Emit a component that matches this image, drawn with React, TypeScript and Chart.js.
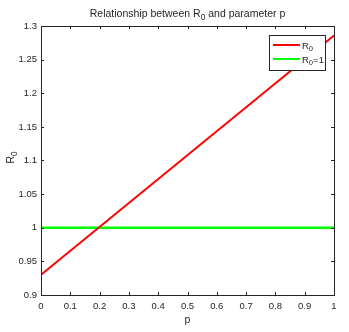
import React, { useEffect, useRef } from "react";
import { Chart, registerables } from "chart.js";

Chart.register(...registerables);

const pValues = [0, 1];
const r0Values = [0.93, 1.286];
const thresholdValues = [1, 1];
const xTicks = [0, 0.1, 0.2, 0.3, 0.4, 0.5, 0.6, 0.7, 0.8, 0.9, 1];
const yTicks = [0.9, 0.95, 1, 1.05, 1.1, 1.15, 1.2, 1.25, 1.3];
const seriesLabels = ["R_0", "R_0=1"];
const seriesColors = ["#ff0000", "#00ff00"];
const titleText = "Relationship between R_0 and parameter p";
const xTitle = "p";
const yTitle = "R_0";

const FONT = "'Liberation Sans', Arial, sans-serif";
const INK = "#262626";

function subParts(t: string) {
  const parts: { s: string; sub: boolean }[] = [];
  let i = 0;
  let buf = "";
  while (i < t.length) {
    if (t[i] === "_" && i + 1 < t.length) {
      if (buf) parts.push({ s: buf, sub: false });
      buf = "";
      parts.push({ s: t[i + 1], sub: true });
      i += 2;
    } else {
      buf += t[i];
      i++;
    }
  }
  if (buf) parts.push({ s: buf, sub: false });
  return parts;
}
function measureSub(ctx: CanvasRenderingContext2D, t: string, size: number) {
  let w = 0;
  for (const p of subParts(t)) {
    ctx.font = `${p.sub ? size * 0.8 : size}px ${FONT}`;
    w += ctx.measureText(p.s).width;
  }
  return w;
}
function drawSub(ctx: CanvasRenderingContext2D, t: string, x: number, y: number, size: number) {
  let cx = x;
  ctx.textBaseline = "alphabetic";
  ctx.textAlign = "left";
  for (const p of subParts(t)) {
    ctx.font = `${p.sub ? size * 0.8 : size}px ${FONT}`;
    ctx.fillText(p.s, cx, p.sub ? y + size * 0.3 : y);
    cx += ctx.measureText(p.s).width;
  }
}

const decor = {
  id: "decor",
  afterDatasetsDraw(chart: any) {
    const ctx: CanvasRenderingContext2D = chart.ctx;
    const a = chart.chartArea;
    const xs = chart.scales.x;
    const ys = chart.scales.y;
    ctx.save();
    ctx.strokeStyle = INK;
    ctx.lineWidth = 1;
    ctx.strokeRect(Math.round(a.left) + 0.5, Math.round(a.top) + 0.5, Math.round(a.right - a.left), Math.round(a.bottom - a.top));
    const tl = 3;
    ctx.beginPath();
    for (const v of xTicks) {
      const px = Math.round(xs.getPixelForValue(v)) + 0.5;
      ctx.moveTo(px, a.bottom);
      ctx.lineTo(px, a.bottom - tl);
      ctx.moveTo(px, a.top);
      ctx.lineTo(px, a.top + tl);
    }
    for (const v of yTicks) {
      const py = Math.round(ys.getPixelForValue(v)) + 0.5;
      ctx.moveTo(a.left, py);
      ctx.lineTo(a.left + tl, py);
      ctx.moveTo(a.right, py);
      ctx.lineTo(a.right - tl, py);
    }
    ctx.stroke();

    ctx.fillStyle = INK;
    const ts = 10.5;
    const tw = measureSub(ctx, titleText, ts);
    drawSub(ctx, titleText, (a.left + a.right) / 2 - tw / 2, 17, ts);
    const xw = measureSub(ctx, xTitle, 10.5);
    drawSub(ctx, xTitle, (a.left + a.right) / 2 - xw / 2, 323, 10.5);
    ctx.save();
    const yw = measureSub(ctx, yTitle, 10.5);
    ctx.translate(14, (a.top + a.bottom) / 2 - 3);
    ctx.rotate(-Math.PI / 2);
    drawSub(ctx, yTitle, -yw / 2, 0, 10.5);
    ctx.restore();

    const lx = 269, ly = 35, lw = 56, lh = 35;
    ctx.fillStyle = "#ffffff";
    ctx.fillRect(lx, ly, lw, lh);
    ctx.strokeStyle = INK;
    ctx.lineWidth = 1;
    ctx.strokeRect(lx + 0.5, ly + 0.5, lw, lh);
    chart.data.datasets.forEach((ds: any, i: number) => {
      const yy = ly + 10 + i * 14;
      ctx.strokeStyle = ds.borderColor;
      ctx.lineWidth = 2;
      ctx.beginPath();
      ctx.moveTo(lx + 4, yy);
      ctx.lineTo(lx + 31, yy);
      ctx.stroke();
      ctx.fillStyle = INK;
      drawSub(ctx, ds.label, lx + 33, yy + 3.5, 9.5);
    });
    ctx.restore();
  },
};

export default function App() {
  const ref = useRef<HTMLCanvasElement>(null);
  useEffect(() => {
    document.body.style.margin = "0";
    const chart = new Chart(ref.current!, {
      type: "line",
      data: {
        datasets: [
          {
            label: seriesLabels[0],
            data: pValues.map((p, i) => ({ x: p, y: r0Values[i] })),
            borderColor: seriesColors[0],
            borderWidth: 2,
            pointRadius: 0,
            fill: false,
          },
          {
            label: seriesLabels[1],
            data: pValues.map((p, i) => ({ x: p, y: thresholdValues[i] })),
            borderColor: seriesColors[1],
            borderWidth: 2.5,
            pointRadius: 0,
            fill: false,
          },
        ],
      },
      plugins: [decor],
      options: {
        animation: false,
        responsive: false,
        devicePixelRatio: 1,
        layout: { padding: { top: 26, right: 15, left: 0, bottom: 0 } },
        plugins: { legend: { display: false }, tooltip: { enabled: false }, title: { display: false } },
        scales: {
          x: {
            type: "linear",
            min: 0,
            max: 1,
            afterBuildTicks: (s: any) => { s.ticks = xTicks.map((v) => ({ value: v })); },
            afterFit: (s: any) => { s.height = 37; },
            grid: { display: false, drawTicks: false },
            border: { display: false },
            ticks: {
              color: INK,
              font: { family: FONT, size: 9.5 },
              padding: 6,
              maxRotation: 0,
              autoSkip: false,
              callback: (v: any) => String(Number(Number(v).toFixed(2))),
            },
          },
          y: {
            type: "linear",
            min: 0.9,
            max: 1.3,
            afterBuildTicks: (s: any) => { s.ticks = yTicks.map((v) => ({ value: v })); },
            afterFit: (s: any) => { s.width = 41; },
            grid: { display: false, drawTicks: false },
            border: { display: false },
            ticks: {
              color: INK,
              font: { family: FONT, size: 9.5 },
              padding: 4,
              autoSkip: false,
              callback: (v: any) => String(Number(Number(v).toFixed(2))),
            },
          },
        },
      },
    } as any);
    return () => chart.destroy();
  }, []);
  return (
    <div style={{ width: 349, height: 332 }}>
      <canvas ref={ref} width={349} height={332} style={{ display: "block" }} />
    </div>
  );
}
